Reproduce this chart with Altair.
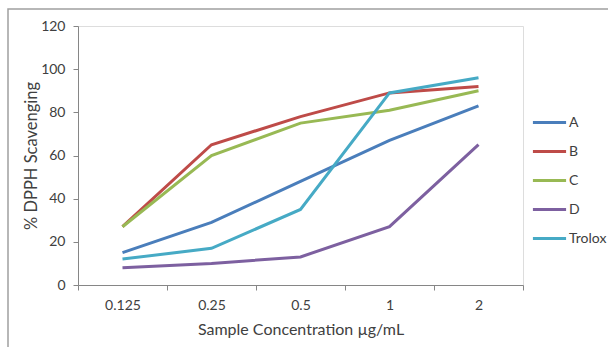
import altair as alt
import pandas as pd

concentrations = ["0.125", "0.25", "0.5", "1", "2"]
series_names = ["A", "B", "C", "D", "Trolox"]
values_A = [15, 29, 48, 67, 83]
values_B = [27, 65, 78, 89, 92]
values_C = [27, 60, 75, 81, 90]
values_D = [8, 10, 13, 27, 65]
values_Trolox = [12, 17, 35, 89, 96]
colors = ["#4A7EBB", "#BE4B48", "#98B954", "#7D60A0", "#46AAC5"]
y_ticks = [0, 20, 40, 60, 80, 100, 120]

all_values = [values_A, values_B, values_C, values_D, values_Trolox]
rows = []
for name, vals in zip(series_names, all_values):
    for c, v in zip(concentrations, vals):
        rows.append({"conc": c, "value": v, "series": name})
df = pd.DataFrame(rows)

FONT = "Lato"
TXT = "#404040"
AX = "#868686"

lines = alt.Chart(df).mark_line(strokeWidth=3).encode(
    x=alt.X(
        "conc:N",
        sort=concentrations,
        bandPosition=0.5,
        scale=alt.Scale(type="band", paddingInner=0, paddingOuter=0),
        axis=alt.Axis(
            title="Sample Concentration µg/mL",
            labelAngle=0,
            tickBand="extent",
            domainColor=AX,
            tickColor=AX,
            tickSize=5,
            labelPadding=8,
            titlePadding=9,
            labelFontSize=14,
            titleFontSize=16,
            titleFontWeight="normal",
            labelColor=TXT,
            titleColor=TXT,
            labelFont=FONT,
            titleFont=FONT,
            grid=False,
        ),
    ),
    y=alt.Y(
        "value:Q",
        scale=alt.Scale(domain=[0, 120], nice=False),
        axis=alt.Axis(
            title="% DPPH Scavenging",
            values=y_ticks,
            domainColor=AX,
            tickColor=AX,
            tickSize=5,
            labelPadding=8,
            titlePadding=1,
            labelFontSize=14,
            titleFontSize=16.5,
            titleFontWeight="normal",
            labelColor=TXT,
            titleColor=TXT,
            labelFont=FONT,
            titleFont=FONT,
            grid=False,
        ),
    ),
    color=alt.Color(
        "series:N",
        sort=series_names,
        scale=alt.Scale(domain=series_names, range=colors),
        legend=alt.Legend(
            title=None,
            orient="none",
            legendX=453,
            legendY=78,
            symbolType="stroke",
            symbolSize=1100,
            symbolStrokeWidth=3,
            labelFontSize=14,
            labelFont=FONT,
            labelColor=TXT,
            labelOffset=1,
            rowPadding=3,
        ),
    ),
)

frame = alt.Chart(pd.DataFrame({"k": [0]})).mark_rect(
    fill=None, stroke="#A0A0A0", strokeWidth=1.5
).encode(
    x=alt.value(-70), x2=alt.value(540), y=alt.value(-17), y2=alt.value(400)
)

chart = alt.layer(frame, lines).properties(
    width=445,
    height=259,
    autosize=alt.AutoSizeParams(type="none"),
    padding={"left": 78, "top": 26, "right": 85, "bottom": 62},
).configure_view(stroke=None).configure(background="white")

chart.save("out.html", embed_options={"renderer": "svg", "actions": False})
